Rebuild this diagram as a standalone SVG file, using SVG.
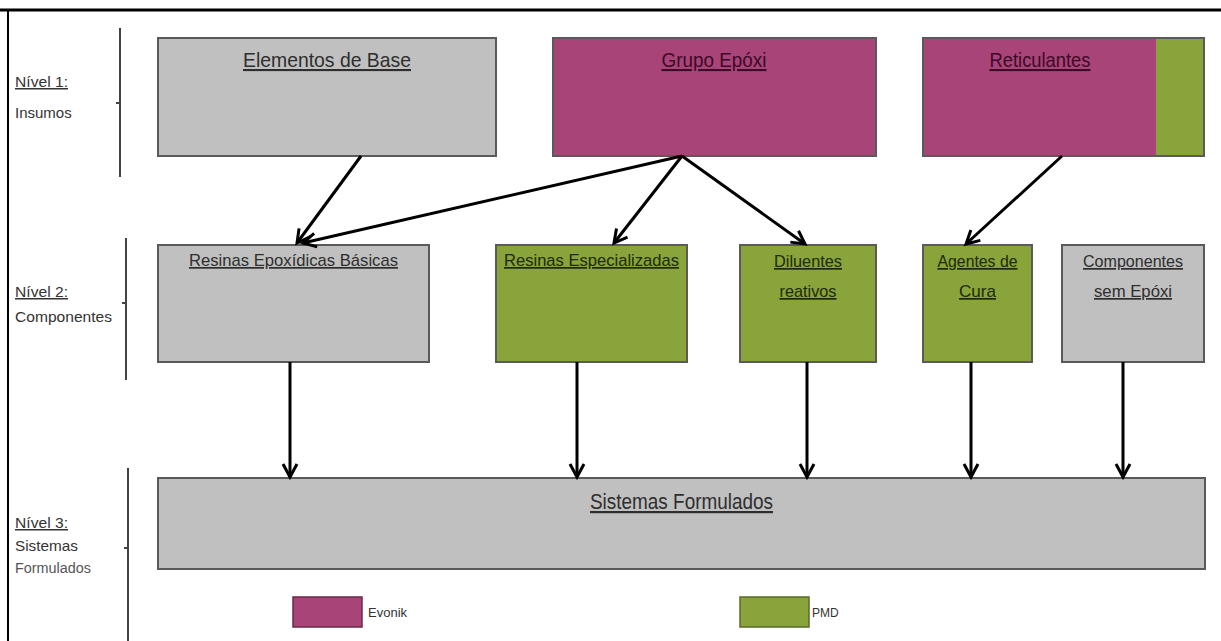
<svg xmlns="http://www.w3.org/2000/svg" width="1221" height="641" viewBox="0 0 1221 641">
<defs>
<style>
.box{stroke:#5a5a5a;stroke-width:2}
.gray{fill:#c0c0c0}
.pink{fill:#a84478}
.green{fill:#88a43a}
.t1{font-family:"Liberation Sans",Arial,sans-serif;font-size:21px;text-anchor:middle;text-decoration:underline}
.t2{font-family:"Liberation Sans",Arial,sans-serif;font-size:17px;text-anchor:middle;text-decoration:underline}
.lv{font-family:"Liberation Sans",Arial,sans-serif;font-size:15px;fill:#333}
.dg{fill:#2e2e2e}
.dp{fill:#3c0a26}
.dgr{fill:#1e2a08}
.conn{stroke:#000;stroke-width:3;fill:none}
.brace{stroke:#444;stroke-width:2;fill:none}
.leg{font-family:"Liberation Sans",Arial,sans-serif;font-size:13px;fill:#333}
</style>
<marker id="arr" markerUnits="userSpaceOnUse" markerWidth="20" markerHeight="20" refX="15" refY="9" orient="auto">
<path d="M2,2 L15,9 L2,16" fill="none" stroke="#000" stroke-width="3" stroke-linejoin="miter"/>
</marker>
</defs>
<rect x="0" y="0" width="1221" height="641" fill="#fff"/>
<g id="frame">
<line x1="0" y1="10" x2="1221" y2="10" stroke="#000" stroke-width="3"/>
<line x1="8" y1="10" x2="8" y2="641" stroke="#000" stroke-width="2"/>
</g>
<g id="levels">
<path class="brace" d="M120,28 L120,177 M120,103 L116,103"/>
<path class="brace" d="M126,238 L126,380 M126,303 L122,303"/>
<path class="brace" d="M128,468 L128,641 M128,548 L124,548"/>
<text class="lv" x="15" y="87" text-decoration="underline" textLength="53" lengthAdjust="spacingAndGlyphs">Nível 1:</text>
<text class="lv" x="15" y="118">Insumos</text>
<text class="lv" x="15" y="297" text-decoration="underline" textLength="53" lengthAdjust="spacingAndGlyphs">Nível 2:</text>
<text class="lv" x="15" y="322" textLength="97" lengthAdjust="spacingAndGlyphs">Componentes</text>
<text class="lv" x="15" y="528" text-decoration="underline" textLength="53" lengthAdjust="spacingAndGlyphs">Nível 3:</text>
<text class="lv" x="15" y="551" textLength="63" lengthAdjust="spacingAndGlyphs">Sistemas</text>
<text class="lv" x="15" y="573" style="font-size:14px;fill:#555" textLength="76" lengthAdjust="spacingAndGlyphs">Formulados</text>
</g>
<g id="elementos">
<rect class="box gray" x="158" y="38" width="338" height="118"/>
<text class="t1 dg" x="327" y="67" textLength="168" lengthAdjust="spacingAndGlyphs">Elementos de Base</text>
</g>
<g id="grupo-epoxi">
<rect class="box pink" x="553" y="38" width="323" height="118"/>
<text class="t1 dp" x="714" y="67" textLength="105" lengthAdjust="spacingAndGlyphs">Grupo Epóxi</text>
</g>
<g id="reticulantes">
<rect class="pink" x="923" y="38" width="233" height="118"/>
<rect class="green" x="1156" y="38" width="48" height="118"/>
<rect x="923" y="38" width="281" height="118" fill="none" stroke="#5a5a5a" stroke-width="2"/>
<text class="t1 dp" x="1040" y="67" textLength="101" lengthAdjust="spacingAndGlyphs">Reticulantes</text>
</g>
<g id="resinas-basicas">
<rect class="box gray" x="158" y="245" width="271" height="117"/>
<text class="t2 dg" x="293.5" y="266" textLength="209" lengthAdjust="spacingAndGlyphs">Resinas Epoxídicas Básicas</text>
</g>
<g id="resinas-especializadas">
<rect class="box green" x="496" y="245" width="191" height="117"/>
<text class="t2 dgr" x="591.5" y="266" textLength="175" lengthAdjust="spacingAndGlyphs">Resinas Especializadas</text>
</g>
<g id="diluentes">
<rect class="box green" x="740" y="245" width="136" height="117"/>
<text class="t2 dgr" x="808" y="267" textLength="68" lengthAdjust="spacingAndGlyphs">Diluentes</text>
<text class="t2 dgr" x="808" y="297" textLength="57" lengthAdjust="spacingAndGlyphs">reativos</text>
</g>
<g id="agentes">
<rect class="box green" x="923" y="245" width="109" height="117"/>
<text class="t2 dgr" x="977.5" y="267" textLength="80" lengthAdjust="spacingAndGlyphs">Agentes de</text>
<text class="t2 dgr" x="977.5" y="297" textLength="37" lengthAdjust="spacingAndGlyphs">Cura</text>
</g>
<g id="componentes">
<rect class="box gray" x="1062" y="245" width="142" height="117"/>
<text class="t2 dg" x="1133" y="267" textLength="100" lengthAdjust="spacingAndGlyphs">Componentes</text>
<text class="t2 dg" x="1133" y="297" textLength="78" lengthAdjust="spacingAndGlyphs">sem Epóxi</text>
</g>
<g id="sistemas">
<rect class="box gray" x="158" y="478" width="1047" height="91"/>
<text class="dg" x="681.5" y="509" font-family="Liberation Sans, Arial, sans-serif" font-size="22" text-anchor="middle" text-decoration="underline" textLength="183" lengthAdjust="spacingAndGlyphs">Sistemas Formulados</text>
</g>
<g id="legend">
<rect class="pink" x="293" y="597" width="69" height="30" stroke="#6a2a4a" stroke-width="1.5"/>
<text class="leg" x="368" y="617">Evonik</text>
<rect class="green" x="740" y="597" width="69" height="30" stroke="#5a6a2a" stroke-width="1.5"/>
<text class="leg" x="812" y="617" style="font-size:12px">PMD</text>
</g>
<g id="connectors">
<line class="conn" x1="361" y1="156" x2="297" y2="243" marker-end="url(#arr)"/>
<line class="conn" x1="682" y1="156" x2="303" y2="243" marker-end="url(#arr)"/>
<line class="conn" x1="682" y1="156" x2="614" y2="243" marker-end="url(#arr)"/>
<line class="conn" x1="682" y1="156" x2="805" y2="244" marker-end="url(#arr)"/>
<line class="conn" x1="1062" y1="156" x2="966" y2="244" marker-end="url(#arr)"/>
<line class="conn" x1="290" y1="362" x2="290" y2="477" marker-end="url(#arr)"/>
<line class="conn" x1="577" y1="362" x2="577" y2="477" marker-end="url(#arr)"/>
<line class="conn" x1="807" y1="362" x2="807" y2="477" marker-end="url(#arr)"/>
<line class="conn" x1="971" y1="362" x2="971" y2="477" marker-end="url(#arr)"/>
<line class="conn" x1="1123" y1="362" x2="1123" y2="477" marker-end="url(#arr)"/>
</g>
</svg>
